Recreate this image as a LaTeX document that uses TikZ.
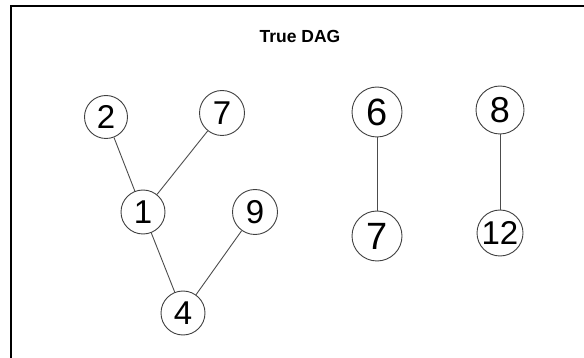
\documentclass[tikz,border=0pt]{standalone}
\usepackage{fontspec}
\setmainfont{Liberation Sans}
\begin{document}
\begin{tikzpicture}[x=1pt,y=-1pt,
  vnode/.style={circle,draw=black!75,line width=0.9pt,inner sep=0pt,fill=white},
  sm/.style={vnode,minimum size=43pt,font=\fontsize{33}{33}\selectfont},
  lg/.style={vnode,minimum size=49pt,font=\fontsize{38}{38}\selectfont},
  edge/.style={draw=black!70,line width=0.9pt}]
\useasboundingbox (0,0) rectangle (584,358);
\draw[line width=2pt] (11,358) -- (11,6) -- (584,6);
\node[font=\bfseries\fontsize{17.5}{17.5}\selectfont] (title) at (300,36) {True DAG};
\node[sm] (n2) at (106,117) {2};
\node[sm,minimum size=45pt] (n7a) at (222,113) {7};
\node[sm,minimum size=44pt] (n1) at (143,212) {1};
\node[sm,minimum size=45pt] (n9) at (255,212) {9};
\node[sm,minimum size=44pt] (n4) at (183,313) {4};
\node[lg,minimum size=50pt] (n6) at (377,112) {6};
\node[lg,minimum size=50pt] (n7b) at (377,236) {7};
\node[lg,minimum size=48pt,font=\fontsize{36}{36}\selectfont] (n8) at (500,110) {8};
\node[lg,minimum size=46pt,font=\fontsize{33}{33}\selectfont] (n12) at (500,233) {12};
\draw[edge] (n2) -- (n1);
\draw[edge] (n7a) -- (n1);
\draw[edge] (n1) -- (n4);
\draw[edge] (n9) -- (n4);
\draw[edge] (n6) -- (n7b);
\draw[edge] (n8) -- (n12);
\end{tikzpicture}
\end{document}
